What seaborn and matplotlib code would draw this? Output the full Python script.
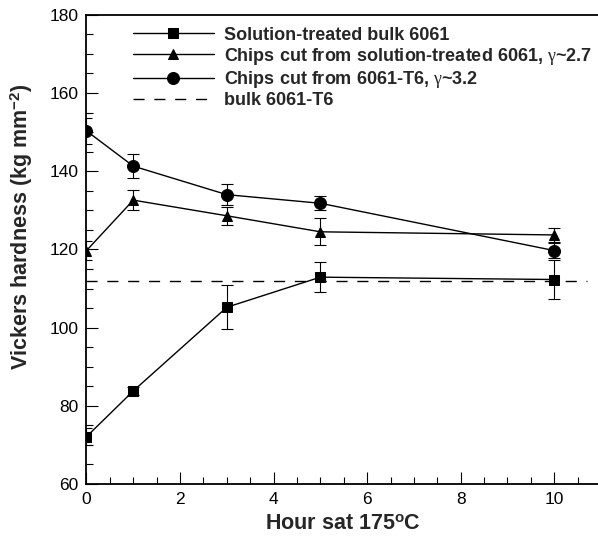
import matplotlib
matplotlib.use("Agg")
import matplotlib.pyplot as plt
import seaborn as sns
import pandas as pd
from matplotlib.ticker import MultipleLocator

# ---- data ----
hours = [0, 1, 3, 5, 10]
bulk_st = [72.1, 83.8, 105.2, 112.9, 112.3]
bulk_st_err = [2.1, 1.0, 5.6, 3.8, 5.0]
chips_st = [119.7, 132.6, 128.6, 124.5, 123.7]
chips_st_err = [2.4, 2.5, 2.3, 3.5, 1.7]
chips_t6 = [150.3, 141.3, 134.0, 131.8, 119.7]
chips_t6_err = [3.4, 3.0, 2.7, 1.8, 2.0]
t6_x = [0, 10.7]
t6_y = [112.0, 112.0]

labels = [
    "Solution-treated bulk 6061",
    r"Chips cut from solution-treated 6061, $\mathrm{\gamma}$~2.7",
    r"Chips cut from 6061-T6, $\mathrm{\gamma}$~3.2",
    "bulk 6061-T6",
]

sns.set_style("ticks")
plt.rcParams["font.family"] = ["Liberation Sans", "DejaVu Sans"]
plt.rcParams["mathtext.fontset"] = "custom"
plt.rcParams["mathtext.bf"] = "Liberation Sans:bold"
plt.rcParams["mathtext.rm"] = "Liberation Serif"
plt.rcParams["mathtext.it"] = "Liberation Serif:italic"

fig = plt.figure(figsize=(5.98, 5.42), dpi=100)
ax = fig.add_axes([86.5 / 598, 58 / 542, (601 - 86.5) / 598, 469.2 / 542])

series = [
    (bulk_st, bulk_st_err, "s", 7.2),
    (chips_st, chips_st_err, "^", 7.5),
    (chips_t6, chips_t6_err, "o", 8.6),
]
for (vals, errs, mk, ms), lab in zip(series, labels[:3]):
    df = pd.DataFrame({"h": hours, "v": vals})
    ax.errorbar(hours, vals, yerr=errs, fmt="none", ecolor="black",
                elinewidth=0.8, capsize=4.6, capthick=0.8, zorder=2)
    sns.lineplot(data=df, x="h", y="v", ax=ax, color="black", marker=mk,
                 markersize=ms, markeredgecolor="black", markerfacecolor="black",
                 linewidth=1.0, label=lab, zorder=3)

ax.plot(t6_x, t6_y, color="black", linewidth=1.0, dashes=(8, 7), label=labels[3], zorder=1)

ax.set_xlim(0, 11)
ax.set_ylim(60, 180)
ax.xaxis.set_major_locator(MultipleLocator(2))
ax.xaxis.set_minor_locator(MultipleLocator(0.5))
ax.yaxis.set_major_locator(MultipleLocator(20))
ax.yaxis.set_minor_locator(MultipleLocator(5))
ax.tick_params(which="both", direction="in", width=0.8, colors="black",
               labelsize=12.5, top=False, right=False)
ax.tick_params(which="major", length=8.6, pad=6)
ax.tick_params(which="minor", length=5)
for s in ["left", "bottom", "top"]:
    ax.spines[s].set_linewidth(1.3)
    ax.spines[s].set_color("black")
ax.spines["right"].set_visible(False)

ax.set_xlabel(r"Hour sat 175$^{\mathbf{o}}$C", fontsize=15.5, fontweight="bold")
ax.set_ylabel(r"Vickers hardness (kg mm$^{\mathbf{-2}}$)", fontsize=15.5, fontweight="bold")
ax.xaxis.set_label_coords(0.499, -0.064)
ax.yaxis.set_label_coords(-0.100, 0.548)

leg = ax.legend(loc="upper left", bbox_to_anchor=(0.090, 0.975), frameon=False,
                prop={"weight": "bold", "size": 13}, handlelength=4.5,
                handletextpad=0.55, labelspacing=0.12, borderpad=0, borderaxespad=0)

fig.savefig("out.png", dpi=100)
